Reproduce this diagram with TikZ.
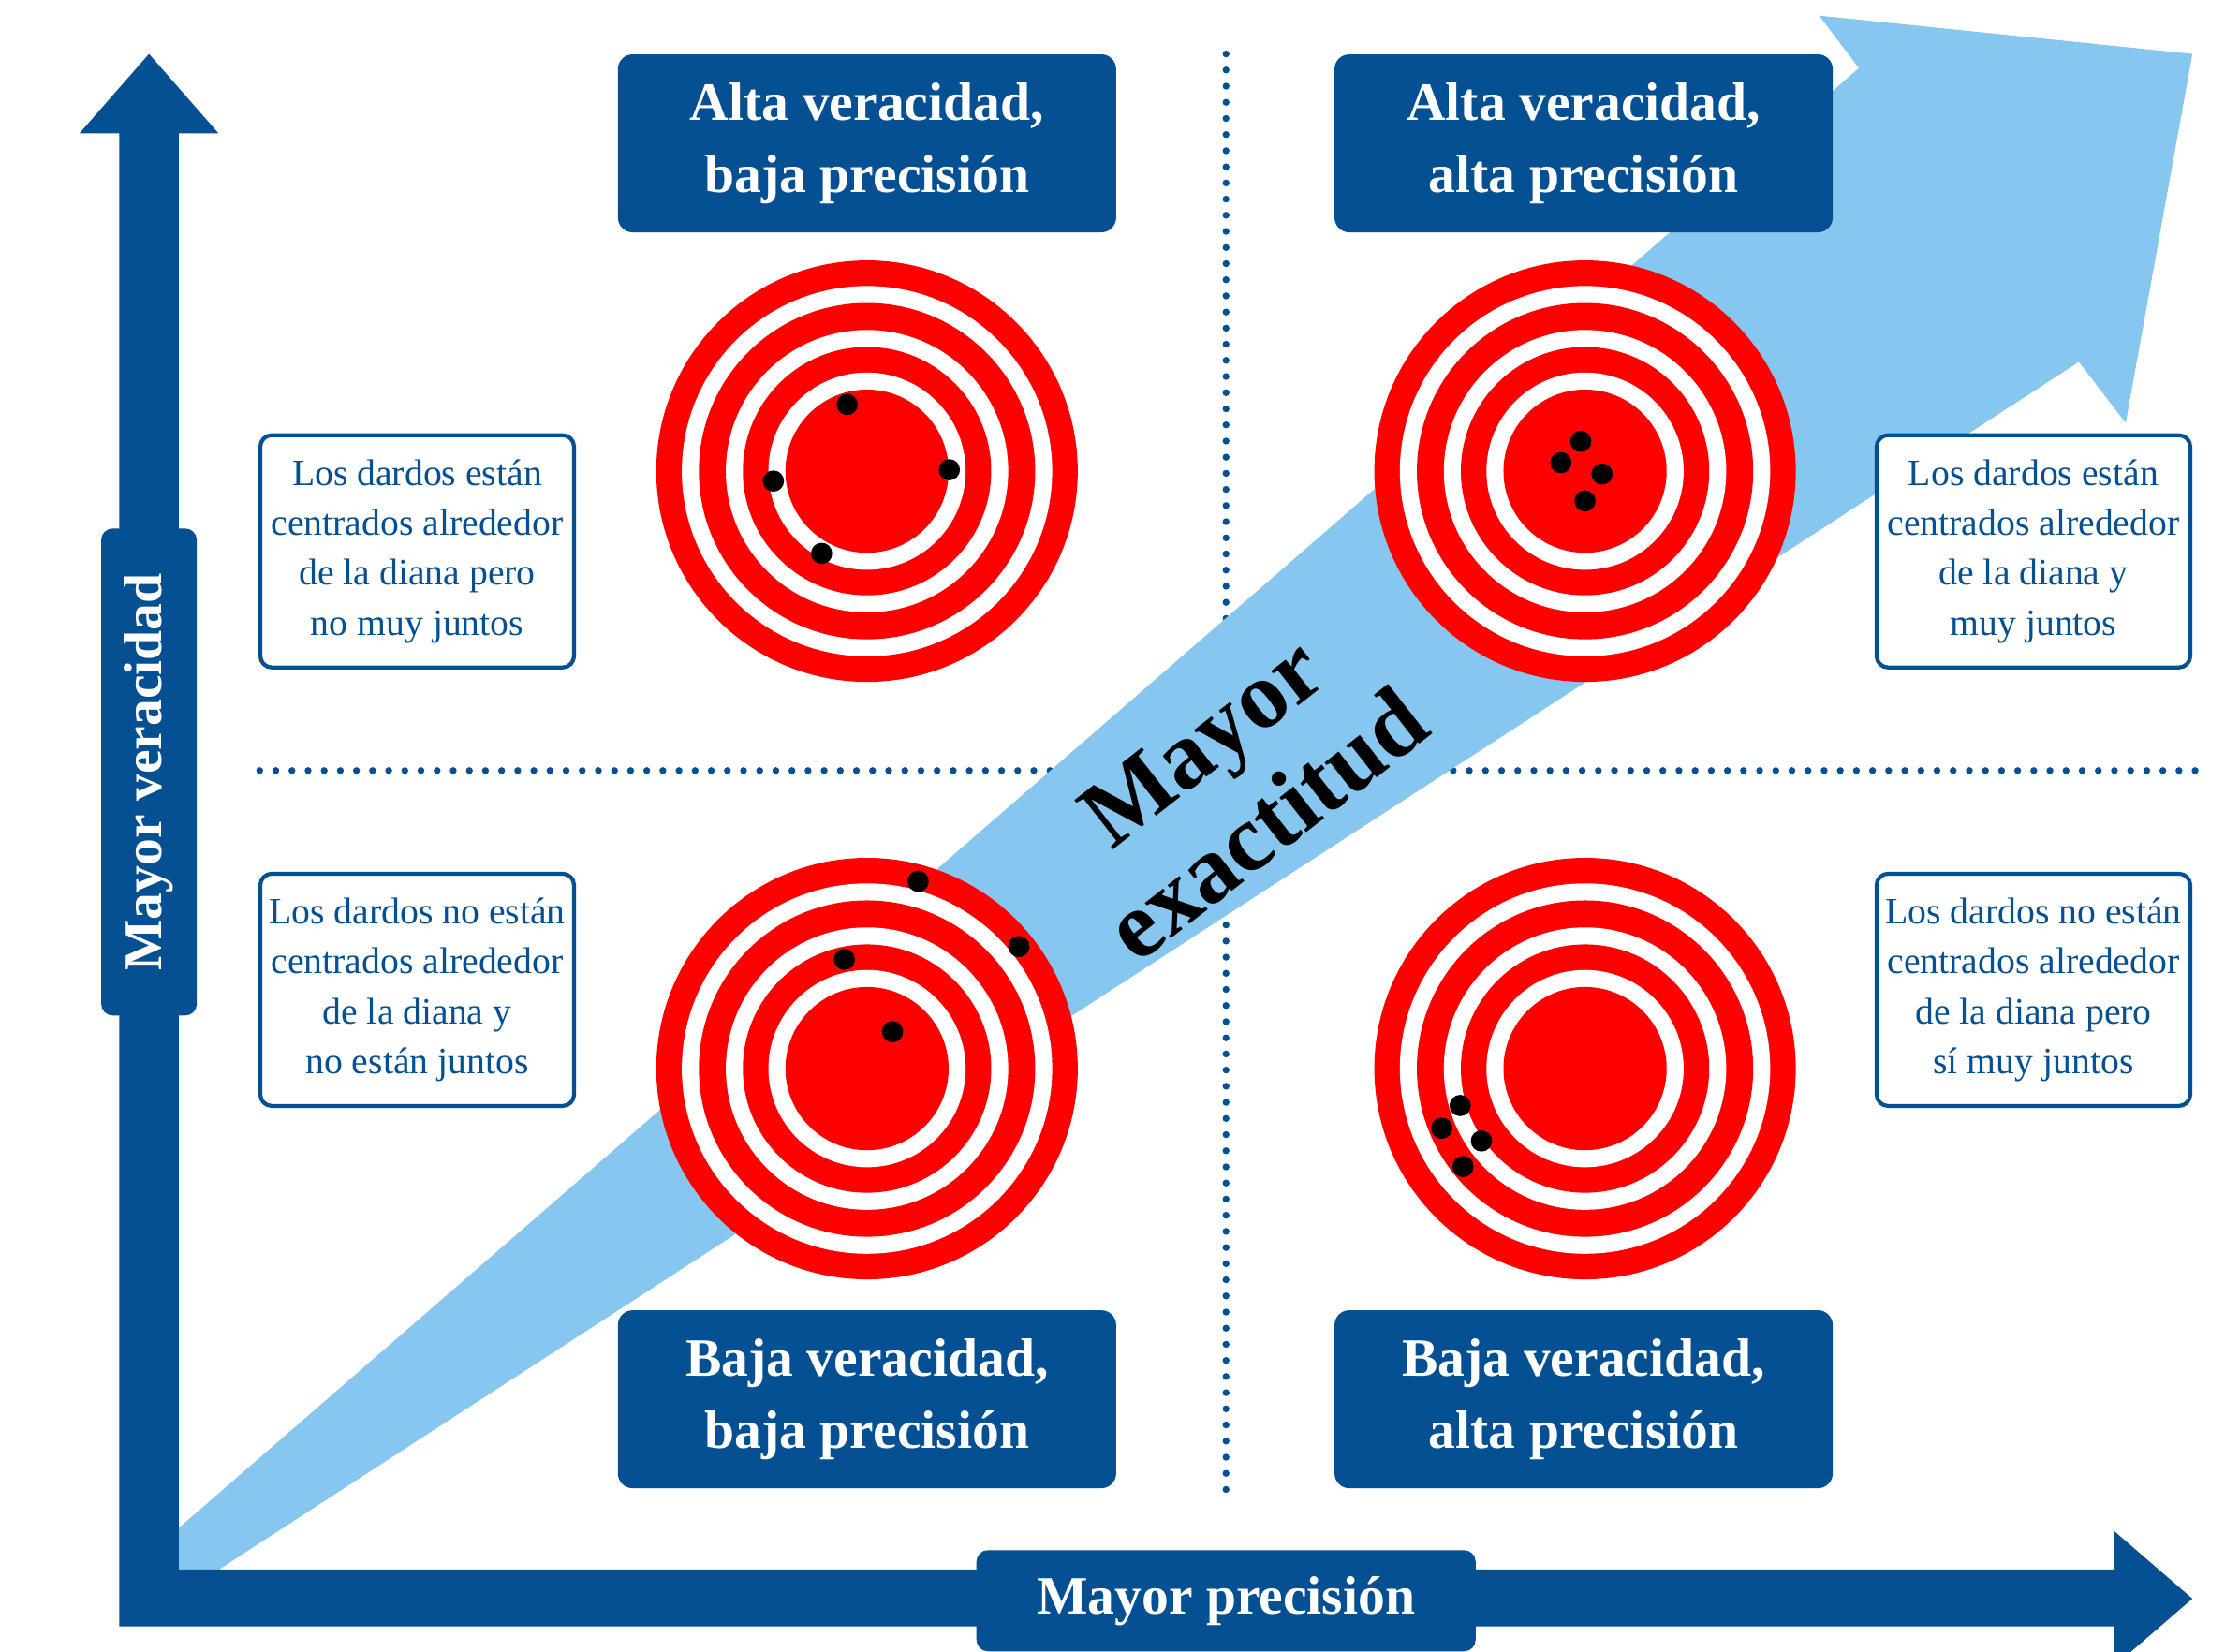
\documentclass[tikz,border=0pt]{standalone}
\usepackage{fontspec}
\setmainfont{Liberation Serif}

\definecolor{azul}{RGB}{4,80,146}
\definecolor{celeste}{RGB}{135,198,238}
\definecolor{rojo}{RGB}{255,0,0}

\tikzset{
  titulo/.style={fill=azul, rounded corners=4.5pt, text=white, align=center,
    minimum width=53.2mm, minimum height=19mm,
    font=\fontsize{16.4}{22}\selectfont\bfseries},
  nota/.style={draw=azul, line width=1.2pt, fill=white, rounded corners=3.5pt,
    text=azul, align=center, inner sep=0pt,
    minimum width=33.5mm, minimum height=24.8mm,
    font=\fontsize{11.3}{15.2}\selectfont},
  etiqueta/.style={fill=azul, rounded corners=3.5pt, text=white,
    font=\fontsize{16.4}{20}\selectfont\bfseries},
  punteado/.style={azul, line width=2.1pt, line cap=round, dash pattern=on 0pt off 4.9pt},
  dardo/.style={fill=black}
}

\begin{document}
\begin{tikzpicture}[x=0.015153cm, y=-0.015153cm]
\useasboundingbox (0,0) rectangle (1568,1163.5);

% cuadrantes
\draw [punteado] (183,543) -- (1552,543);
\draw [punteado] (864,38) -- (864,1050);

% flecha de exactitud
\fill [celeste] (105,1095) -- (1310,48) -- (1282,11) -- (1545,38)
  -- (1498,298) -- (1465,255) -- (105,1138) -- cycle;

% dianas
\foreach \cx/\cy in {611/332, 1117/332, 611/753, 1117/753}{
  \foreach \r/\c in {148.5/rojo, 130.5/white, 118.5/rojo, 99.5/white, 87.5/rojo, 69.5/white, 57.5/rojo}
    \fill [\c] (\cx,\cy) circle (\r);
}

% dardos
\foreach \p in {(597,285), (545,339), (669,331), (579,390),
                (1114,311), (1100,326), (1129,334), (1117,353),
                (647,621), (718,667), (595,676), (629,727),
                (1029,779), (1016,795), (1044,804), (1031,822)}
  \fill [dardo] \p circle (7.5);

% ejes
\fill [azul] (56,94) -- (105,38) -- (154,94) -- (126,94) -- (126,1106)
  -- (1490,1106) -- (1490,1079) -- (1545,1126.5) -- (1490,1174) -- (1490,1146)
  -- (84,1146) -- (84,94) -- cycle;

\node [titulo] (avbp) at (611,101) {Alta veracidad,\\baja precisión};
\node [titulo] (avap) at (1116,101) {Alta veracidad,\\alta precisión};
\node [titulo] (bvbp) at (611,986) {Baja veracidad,\\baja precisión};
\node [titulo] (bvap) at (1116,986) {Baja veracidad,\\alta precisión};

\node [nota] (nota1) at (294,388.5) {Los dardos están\\centrados alrededor\\de la diana pero\\no muy juntos};
\node [nota] (nota2) at (1433,388.5) {Los dardos están\\centrados alrededor\\de la diana y\\muy juntos};
\node [nota] (nota3) at (294,697.5) {Los dardos no están\\centrados alrededor\\de la diana y\\no están juntos};
\node [nota] (nota4) at (1433,697.5) {Los dardos no están\\centrados alrededor\\de la diana pero\\sí muy juntos};

\node [etiqueta, rotate=90, minimum width=52mm, minimum height=10.2mm] (veracidad) at (105,544) {Mayor veracidad};
\node [etiqueta, minimum width=53.3mm, minimum height=10.8mm] (precision) at (864,1128) {Mayor precisión};

\node [rotate=38, align=center, font=\fontsize{29}{32}\selectfont\bfseries] (exactitud) at (870,552) {Mayor\\exactitud};
\end{tikzpicture}
\end{document}
